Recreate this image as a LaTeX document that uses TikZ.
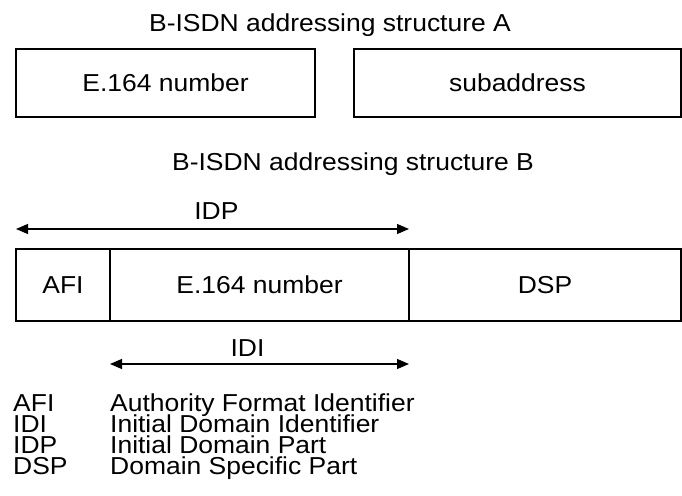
\documentclass[tikz,border=0pt]{standalone}
\usepackage{fontspec}
\setmainfont{Liberation Sans}[FakeStretch=1.08]
\usetikzlibrary{arrows.meta,positioning}

\newcommand\diagfont{\fontsize{24.5}{21}\selectfont\lineskiplimit-100pt\relax}

\tikzset{
  cell/.style={draw,line width=1.2pt,inner sep=0pt,outer sep=0pt},
  dimline/.style={{Triangle[length=12pt,width=10pt]}-{Triangle[length=12pt,width=10pt]},line width=1.2pt},
  legend/.style={anchor=north west,inner sep=0pt,align=left}
}

\begin{document}
\begin{tikzpicture}[x=1pt,y=1pt,font=\diagfont]
    \useasboundingbox (0,0) rectangle (682,495);
    % structure A
    \node (titleA) at (330,470) {B-ISDN addressing structure A};
    \node[cell,minimum width=299,minimum height=68] (e164a) at (165.5,412) {E.164 number};
    \node[cell,minimum width=327,minimum height=68] (subaddr) at (517.5,412) {subaddress};
    % structure B
    \node (titleB) at (353,331) {B-ISDN addressing structure B};
    \node[cell,minimum width=94,minimum height=72] (afi) at (63,210) {AFI};
    \node[cell,minimum width=299,minimum height=72,right=0pt of afi] (e164b) {E.164 number};
    \node[cell,minimum width=272,minimum height=72,right=0pt of e164b] (dsp) {DSP};
    \draw[dimline] ([yshift=20]afi.north west) -- ([yshift=20]e164b.north east)
        node[pos=0.51,above=6pt] (idp) {IDP};
    \draw[dimline] ([yshift=-43]e164b.south west) -- ([yshift=-43]e164b.south east)
        node[pos=0.46,above=4pt] (idi) {IDI};
    % legend
    \node[legend] (abbrs) at (13,101) {AFI\\IDI\\IDP\\DSP};
    \node[legend] (descs) at (110,101) {Authority Format Identifier\\Initial Domain Identifier\\
        Initial Domain Part\\Domain Specific Part};
  \end{tikzpicture}
\end{document}
